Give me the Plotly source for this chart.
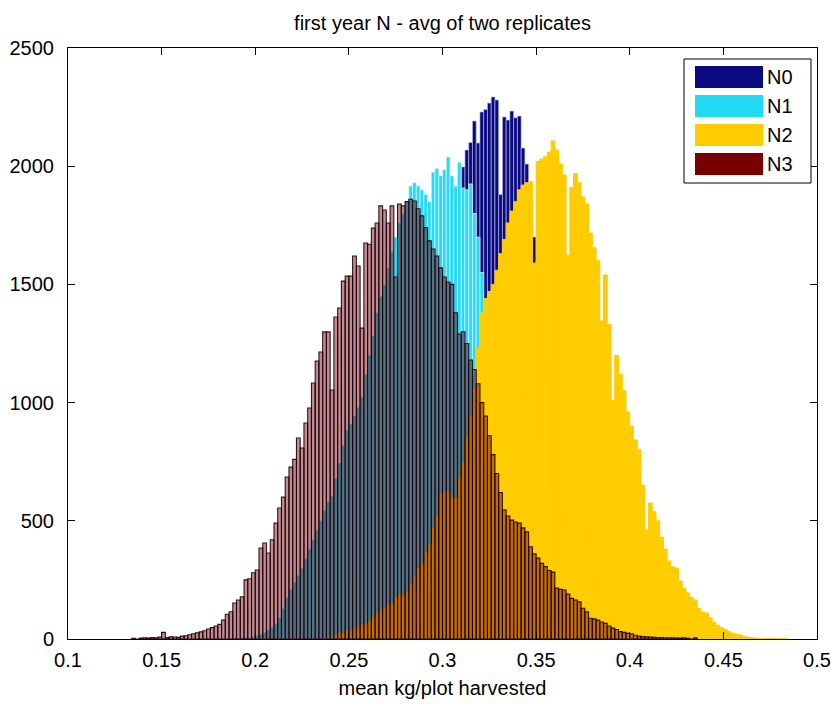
import plotly.graph_objects as go

# ---------------- data (histogram counts) ----------------
series_names = ["N0", "N1", "N2", "N3"]
bin_width = 0.002

n0_first_bin = 0.221
n0_counts = [10, 15, 20, 28, 35, 45, 55, 70, 85, 100, 120, 140, 165, 190, 220, 255, 290, 330,
             370, 420, 470, 520, 580, 640, 700, 770, 840, 910, 980, 1050, 1120, 1200, 1280,
             1350, 1420, 1500, 1570, 1640, 1700, 1760, 1820, 1870, 1900, 1880, 1946, 1997,
             2068, 2100, 2191, 2098, 2229, 2240, 2267, 2293, 2280, 1880, 2208, 2195, 2233,
             2205, 2212, 2077, 2009, 1850, 1700, 1600, 1500, 1400, 1300, 1200, 1100, 1000,
             900, 810, 720, 640, 560, 490, 420, 360, 300, 250, 210, 170, 140, 110, 85, 65,
             50, 38, 28, 20, 14, 10, 6, 4, 2]

n1_first_bin = 0.189
n1_counts = [3, 2, 5, 8, 6, 12, 15, 20, 28, 40, 50, 65, 90, 130, 175, 210, 240, 270, 300, 340,
             380, 420, 460, 500, 545, 580, 605, 680, 745, 820, 884, 910, 943, 980, 1023, 1120,
             1200, 1282, 1380, 1450, 1497, 1570, 1640, 1700, 1760, 1800, 1850, 1916, 1930,
             1916, 1900, 1880, 1850, 1975, 1990, 1960, 1985, 2039, 1960, 1916, 2017, 1908,
             1900, 1925, 1800, 1700, 1550, 1420, 1400, 1380, 1350, 1300, 1250, 1200, 1150,
             1100, 1050, 1000, 950, 900, 850, 800, 750, 700, 650, 600, 560, 520, 480, 440,
             400, 370, 340, 310, 280, 250, 225, 200, 180, 160, 140, 125, 110, 95, 82, 70, 60,
             50, 42, 35, 28, 22, 18, 14, 10, 7, 5, 3, 2]

n2_first_bin = 0.241
n2_counts = [5, 15, 30, 22, 35, 30, 45, 50, 62, 68, 75, 90, 110, 123, 130, 145, 150, 175, 190,
             185, 200, 230, 260, 300, 320, 370, 400, 465, 520, 615, 620, 625, 600, 595, 680,
             745, 850, 940, 1060, 1230, 1380, 1440, 1470, 1500, 1560, 1630, 1690, 1760, 1810,
             1850, 1900, 1920, 1930, 1935, 1590, 2020, 2030, 2040, 2060, 2107, 2068, 2010,
             1963, 1624, 1910, 1969, 1930, 1870, 1840, 1717, 1655, 1600, 1345, 1540, 1330,
             1010, 1200, 1120, 1050, 960, 900, 842, 800, 650, 461, 575, 540, 500, 431, 380,
             330, 305, 300, 245, 215, 195, 175, 165, 130, 114, 110, 90, 70, 58, 48, 40, 32,
             25, 20, 17, 12, 8, 5, 4, 3, 0, 3, 2, 3, 0, 2, 1]

n3_first_bin = 0.135
n3_counts = [3, 0, 4, 5, 4, 6, 5, 8, 28, 6, 9, 8, 7, 12, 14, 18, 22, 26, 30, 35, 42, 48, 55, 62,
             80, 105, 115, 152, 165, 178, 250, 255, 280, 292, 385, 406, 364, 420, 490, 554,
             600, 685, 727, 760, 850, 808, 914, 977, 1083, 1176, 1214, 1299, 1299, 1053, 1362,
             1400, 1514, 1535, 1535, 1620, 1578, 1315, 1675, 1670, 1738, 1760, 1832, 1815,
             1760, 1832, 1531, 1840, 1832, 1850, 1860, 1853, 1820, 1790, 1740, 1684, 1650,
             1620, 1570, 1531, 1510, 1500, 1380, 1290, 1300, 1250, 1180, 1140, 1080, 1000,
             943, 860, 780, 700, 620, 546, 520, 503, 495, 490, 470, 453, 390, 360, 342, 320,
             306, 290, 283, 215, 210, 207, 190, 172, 165, 157, 130, 115, 88, 85, 80, 72, 66,
             55, 46, 40, 31, 28, 24, 22, 16, 12, 10, 9, 8, 7, 6, 6, 5, 5, 5, 4, 4, 5, 3, 0, 5]

x_ticks = [0.1, 0.15, 0.2, 0.25, 0.3, 0.35, 0.4, 0.45, 0.5]
x_tick_labels = ["0.1", "0.15", "0.2", "0.25", "0.3", "0.35", "0.4", "0.45", "0.5"]
y_ticks = [0, 500, 1000, 1500, 2000, 2500]
y_tick_labels = ["0", "500", "1000", "1500", "2000", "2500"]

title_text = "first year N - avg of two replicates"
x_title = "mean kg/plot harvested"

# ---------------- styling ----------------
W, H = 831, 704
ML, MR, MT, MB = 68, 14, 48, 65
FONT = "Liberation Sans, Arial, Helvetica, sans-serif"
FS = 20

fills = {
    "N0": "rgb(10,10,128)",
    "N1": "rgb(40,218,242)",
    "N2": "rgb(255,204,0)",
    "N3": "rgba(112,0,12,0.45)",
}
edges = {
    "N0": dict(color="rgba(190,190,230,0.9)", width=0.7),
    "N1": dict(color="rgba(215,245,250,0.95)", width=0.8),
    "N2": dict(color="rgb(255,204,0)", width=1.0),
    "N3": dict(color="rgba(30,0,10,0.9)", width=1.1),
}
legend_patch = {
    "N0": "rgb(10,10,128)",
    "N1": "rgb(34,216,242)",
    "N2": "rgb(255,204,0)",
    "N3": "rgb(120,0,0)",
}

series = {
    "N0": (n0_first_bin, n0_counts),
    "N1": (n1_first_bin, n1_counts),
    "N2": (n2_first_bin, n2_counts),
    "N3": (n3_first_bin, n3_counts),
}

fig = go.Figure()
for name in series_names:
    first, counts = series[name]
    centers = [round(first + i * bin_width, 6) for i in range(len(counts))]
    fig.add_trace(go.Bar(
        x=centers, y=counts, width=bin_width, name=name,
        marker=dict(color=fills[name], line=edges[name]),
        showlegend=False,
    ))

pw = W - ML - MR
ph = H - MT - MB


def px_x(px):
    return (px - ML) / pw


def px_y(py):
    return (H - MB - py) / ph


# custom MATLAB-style legend
shapes = [dict(type="rect", xref="paper", yref="paper",
               x0=px_x(684), x1=px_x(811), y0=px_y(183), y1=px_y(59),
               line=dict(color="black", width=1), fillcolor="white", layer="above")]
annotations = []
row_centers = [77, 106, 135, 164]
for name, yc in zip(series_names, row_centers):
    shapes.append(dict(type="rect", xref="paper", yref="paper",
                       x0=px_x(695), x1=px_x(763), y0=px_y(yc + 11), y1=px_y(yc - 11),
                       line=dict(width=0), fillcolor=legend_patch[name], layer="above"))
    annotations.append(dict(xref="paper", yref="paper", x=px_x(765), y=px_y(yc),
                            text=name, showarrow=False, xanchor="left", yanchor="middle",
                            font=dict(family=FONT, size=FS, color="black")))

axis_common = dict(
    showline=True, linecolor="black", linewidth=1, mirror="ticks",
    ticks="inside", ticklen=7, tickcolor="black", tickwidth=1,
    showgrid=False, zeroline=False, layer="above traces",
    tickfont=dict(family=FONT, size=FS, color="black"),
)

fig.update_layout(
    width=W, height=H,
    margin=dict(l=ML, r=MR, t=MT, b=MB, autoexpand=False),
    paper_bgcolor="white", plot_bgcolor="white",
    barmode="overlay",
    font=dict(family=FONT, size=FS, color="black"),
    title=dict(text=title_text, x=0.5, xref="paper", xanchor="center",
               y=1 - 23 / H, yref="container", yanchor="middle",
               font=dict(family=FONT, size=FS, color="black")),
    xaxis=dict(range=[0.1, 0.5], tickvals=x_ticks, ticktext=x_tick_labels,
               title=dict(text=x_title, standoff=10, font=dict(family=FONT, size=FS)),
               ticklabelstandoff=3, automargin=False, **axis_common),
    yaxis=dict(range=[0, 2500], tickvals=y_ticks, ticktext=y_tick_labels,
               ticklabelstandoff=9, automargin=False, **axis_common),
    shapes=shapes, annotations=annotations,
)

fig.write_html("out.html")
